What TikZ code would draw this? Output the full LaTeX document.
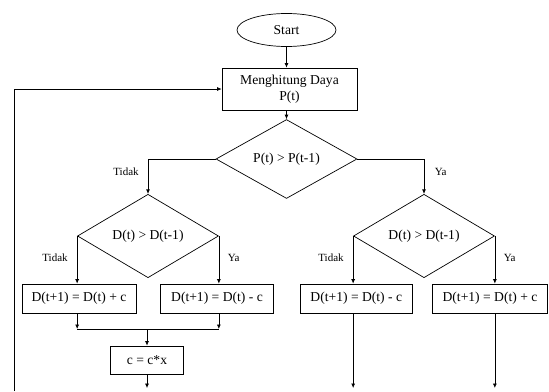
\documentclass[tikz,border=0pt]{standalone}
\usepackage{fontspec}
\setmainfont{Liberation Serif}
\usetikzlibrary{shapes.geometric,arrows.meta}
\begin{document}
\begin{tikzpicture}[x=1pt,y=-1pt,
  line width=0.7pt,
  arr/.style={-{Latex[length=4.5pt,width=4pt]}},
  nfont/.style={font=\fontsize{13.6}{15.5}\selectfont},
  proc/.style={draw, rectangle, inner sep=0pt, align=center, nfont},
  dec/.style={draw, diamond, inner sep=0pt, minimum width=141pt, minimum height=55pt, nfont},
  term/.style={draw, ellipse, inner sep=0pt, minimum width=99pt, minimum height=33pt, nfont},
  lbl/.style={font=\fontsize{11}{13}\selectfont, inner sep=0pt, text height=7.5pt, text depth=0pt}]
\useasboundingbox (0,0) rectangle (549,391);
\node[term] (start) at (286.5,30) {Start};
\node[proc, minimum width=135pt, minimum height=42pt] (hitung) at (289.5,89) {Menghitung Daya\\P(t)};
\node[dec] (d1) at (286.5,159) {P(t) > P(t-1)};
\node[dec] (d2) at (148,236) {D(t) > D(t-1)};
\node[dec] (d3) at (424,236) {D(t) > D(t-1)};
\node[proc, minimum width=114pt, minimum height=29pt] (a) at (79,298.5) {D(t+1) = D(t) + c};
\node[proc, minimum width=112.6pt, minimum height=29pt] (b) at (217,298.5) {D(t+1) = D(t) - c};
\node[proc, minimum width=112.7pt, minimum height=29pt] (c) at (356.3,298.5) {D(t+1) = D(t) - c};
\node[proc, minimum width=115pt, minimum height=29pt] (d) at (490,298.5) {D(t+1) = D(t) + c};
\node[proc, minimum width=73.3pt, minimum height=28pt] (cx) at (147,360) {c = c*x};
\coordinate (m) at (147,329);
\coordinate (e1) at (147,388);
\coordinate (lb) at (14,391);
% connectors
\draw[arr] (start.south) -- (start.south |- hitung.north);
\draw[arr] (d1.north |- hitung.south) -- (d1.north);
\draw[arr] (lb) |- (hitung.west);
\draw[arr] (d1.west) -| (d2.north);
\draw[arr] (d1.east) -| (d3.north);
\draw[arr] (d2.west) -- (d2.west |- a.north);
\draw[arr] (d2.east) -- (d2.east |- b.north);
\draw[arr] (d3.west) -- (d3.west |- c.north);
\draw[arr] (d3.east) -- (d3.east |- d.north);
\draw[arr] (d2.west |- a.south) -- (d2.west |- m);
\draw[arr] (d2.east |- b.south) -- (d2.east |- m);
\draw (d2.west |- m) -- (d2.east |- m);
\draw[arr] (m) -- (cx.north);
\draw[arr] (cx.south) -- (e1);
\draw[arr] (d3.west |- c.south) -- (d3.west |- e1);
\draw[arr] (d3.east |- d.south) -- (d3.east |- e1);
% labels
\node[lbl, anchor=east] (t1) at (139,172) {Tidak};
\node[lbl, anchor=west] (y1) at (434.5,172) {Ya};
\node[lbl, anchor=east] (t2) at (68,258) {Tidak};
\node[lbl, anchor=west] (y2) at (227.5,258) {Ya};
\node[lbl, anchor=east] (t3) at (344,258) {Tidak};
\node[lbl, anchor=west] (y3) at (503.5,258) {Ya};
\end{tikzpicture}
\end{document}
